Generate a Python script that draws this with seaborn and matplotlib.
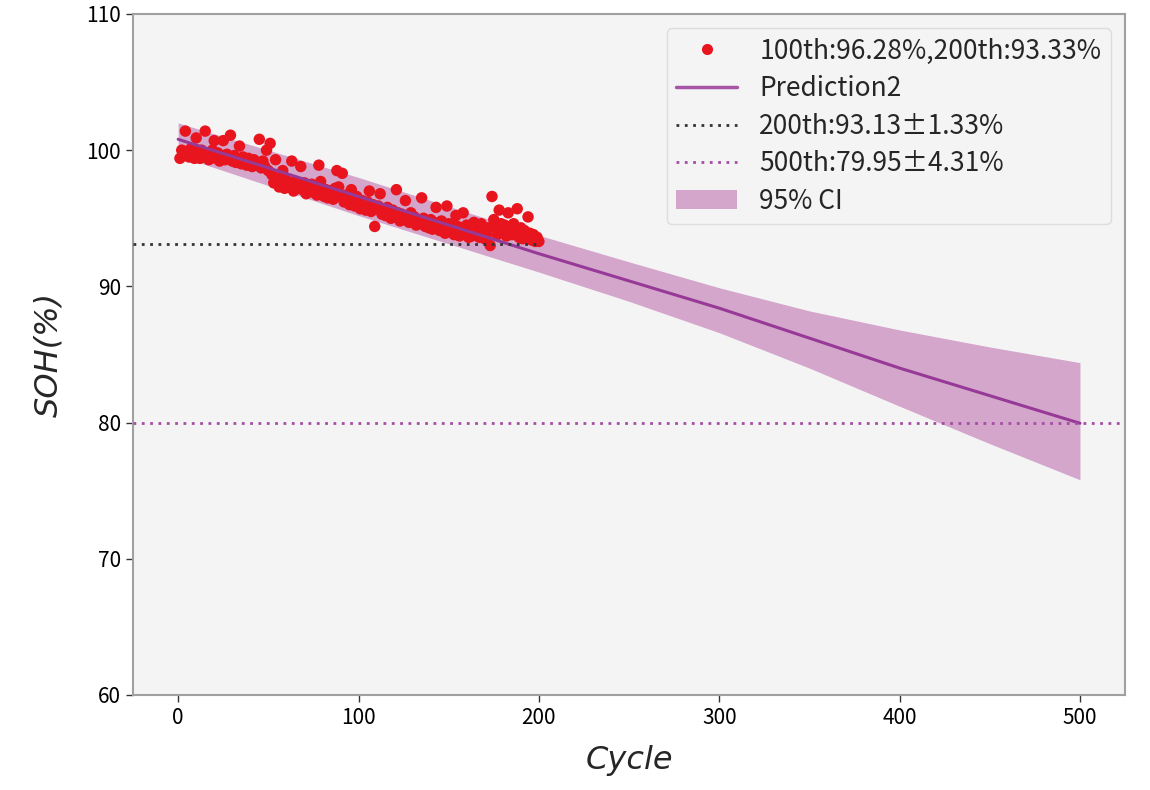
import matplotlib
matplotlib.use("Agg")
import matplotlib.pyplot as plt
import seaborn as sns
import pandas as pd
from matplotlib.lines import Line2D
from matplotlib.patches import Patch

# ---------------- data ----------------
cycles = list(range(1, 201))
soh = [
    99.4, 100.0, 99.6, 101.4, 99.9, 99.5, 100.1, 99.7, 99.4, 100.9,
    99.9, 99.4, 100.0, 99.5, 101.4, 99.8, 99.3, 99.7, 100.0, 100.7,
    99.4, 99.8, 99.2, 99.6, 100.7, 99.3, 99.7, 99.4, 101.1, 99.2,
    99.6, 99.1, 99.4, 100.3, 99.0, 99.5, 99.2, 98.9, 99.4, 99.1,
    98.8, 99.3, 98.9, 99.1, 100.8, 98.7, 99.2, 98.8, 100.0, 98.5,
    100.5, 98.2, 97.6, 99.3, 97.9, 97.3, 97.7, 98.5, 97.2, 97.8,
    97.3, 97.6, 99.2, 97.0, 97.7, 97.2, 97.5, 98.8, 97.1, 97.6,
    96.8, 97.4, 97.0, 97.5, 96.9, 97.3, 96.7, 98.9, 97.7, 97.2,
    96.6, 97.1, 96.5, 97.0, 96.8, 96.4, 97.2, 98.5, 97.3, 96.6,
    98.3, 96.2, 96.7, 96.3, 96.0, 97.1, 96.5, 95.9, 96.6, 96.1,
    95.7, 96.3, 95.9, 95.6, 96.2, 97.0, 95.5, 96.0, 94.4, 95.7,
    95.9, 96.8, 95.3, 95.7, 95.2, 95.8, 95.4, 95.0, 95.6, 95.1,
    97.1, 95.4, 94.8, 95.3, 94.9, 96.3, 95.2, 94.7, 95.4, 94.8,
    95.1, 94.5, 94.9, 94.6, 96.5, 95.0, 94.4, 94.8, 94.3, 94.9,
    94.2, 94.7, 95.8, 94.4, 94.1, 94.8, 94.3, 93.9, 95.9, 94.6,
    94.0, 94.5, 93.8, 95.2, 94.4, 93.7, 94.3, 95.4, 93.9, 94.5,
    93.6, 94.2, 93.7, 94.7, 93.9, 94.4, 93.6, 94.6, 94.0, 93.5,
    93.8, 94.3, 93.0, 96.6, 94.9, 94.4, 93.8, 95.6, 94.6, 94.0,
    94.5, 93.7, 95.4, 94.2, 93.8, 94.6, 93.9, 95.7, 93.6, 94.3,
    93.5, 94.1, 93.6, 95.1, 93.9, 93.4, 93.8, 93.3, 93.6, 93.3,
]

pred_cycles = [0, 100, 200, 300, 400, 500]
pred_soh = [100.8, 96.6, 92.4, 88.4, 84.0, 79.95]

ci_cycles = [0, 100, 200, 250, 300, 350, 400, 450, 500]
ci_upper = [102.0, 98.0, 93.75, 91.8, 89.9, 88.2, 86.8, 85.55, 84.4]
ci_lower = [99.6, 95.2, 91.05, 88.9, 86.6, 84.0, 81.2, 78.45, 75.8]

ref_200 = 93.13
ref_200_end = 200
ref_500 = 79.95

label_points = "100th:96.28%,200th:93.33%"
label_pred = "Prediction2"
label_200 = "200th:93.13±1.33%"
label_500 = "500th:79.95±4.31%"
label_ci = "95% CI"

x_ticks = [0, 100, 200, 300, 400, 500]
y_ticks = [60, 70, 80, 90, 100, 110]

# ---------------- style ----------------
sns.set_style("ticks")
plt.rcParams['font.family'] = ['Noto Sans CJK SC', 'DejaVu Sans']

RED = '#e8141e'
PURPLE = '#973a97'
BAND = '#d4a6cc'
BG = '#f4f4f4'

fig = plt.figure(figsize=(11.5, 7.9), dpi=100)
ax = fig.add_axes([0.1157, 0.1203, 0.8626, 0.862])
ax.set_facecolor(BG)

df_pts = pd.DataFrame({'Cycle': cycles, 'SOH': soh})
df_pred = pd.DataFrame({'Cycle': pred_cycles, 'SOH': pred_soh})

ax.fill_between(ci_cycles, ci_lower, ci_upper, color=BAND, lw=0, zorder=1)
sns.scatterplot(data=df_pts, x='Cycle', y='SOH', ax=ax, color=RED, s=68,
                edgecolor='none', zorder=2, legend=False)
sns.lineplot(data=df_pred, x='Cycle', y='SOH', ax=ax, color=PURPLE, lw=2.2,
             zorder=3, legend=False)
ax.hlines(ref_200, -25, ref_200_end, colors='#333333', linestyles=(0, (1.0, 2.0)),
          lw=2, zorder=4)
ax.axhline(ref_500, color='#a54ca5', linestyle=(0, (1.0, 2.0)), lw=2, zorder=4)

ax.set_xlim(-25, 525)
ax.set_ylim(60, 110)
ax.set_xticks(x_ticks)
ax.set_yticks(y_ticks)
ax.tick_params(axis='both', labelsize=15, length=5, width=1, color='#333333',
               labelcolor='black', direction='out')
for sp in ax.spines.values():
    sp.set_visible(True)
    sp.set_color('#a0a0a0')
    sp.set_linewidth(1.5)

ax.set_xlabel('Cycle', fontsize=23, style='italic', family='DejaVu Sans', labelpad=12)
ax.set_ylabel('SOH(%)', fontsize=23, style='italic', family='DejaVu Sans', labelpad=16)

handles = [
    Line2D([], [], marker='o', linestyle='none', color=RED, markersize=8,
           markeredgewidth=0),
    Line2D([], [], color='#a855a8', lw=2.5),
    Line2D([], [], color='#333333', lw=2, linestyle=(0, (1.0, 2.0))),
    Line2D([], [], color='#a54ca5', lw=2, linestyle=(0, (1.0, 2.0))),
    Patch(facecolor=BAND, edgecolor='none'),
]
labels = [label_points, label_pred, label_200, label_500, label_ci]
leg = ax.legend(handles, labels, loc='upper right', fontsize=19,
                handlelength=2.3, handletextpad=0.85, labelspacing=0.4,
                borderpad=0.35, facecolor=BG, edgecolor='#dddddd', framealpha=1,
                borderaxespad=0.55)

fig.savefig('out.png', dpi=100)
